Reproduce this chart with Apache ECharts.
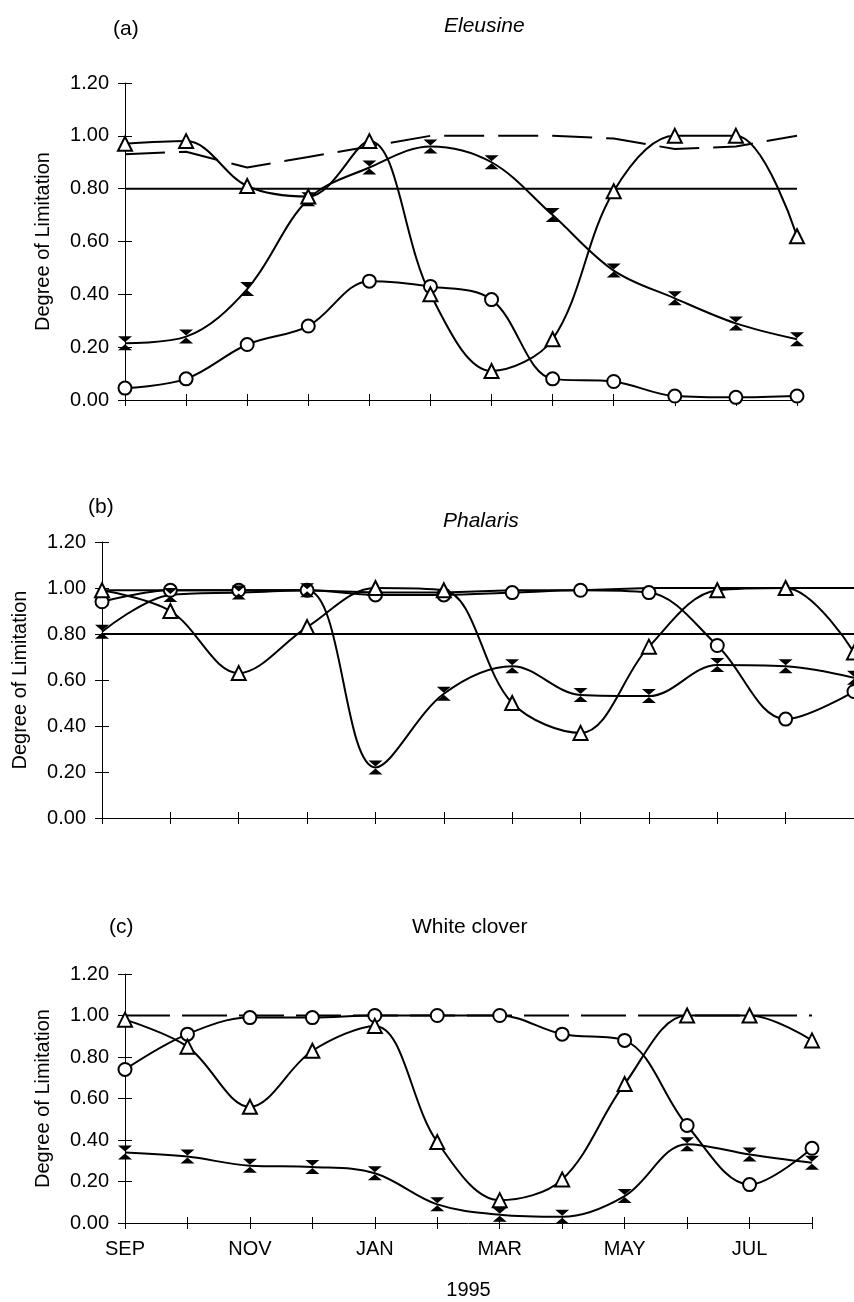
<!DOCTYPE html>
<html>
<head>
<meta charset="utf-8">
<script src="https://cdn.jsdelivr.net/npm/echarts@6/dist/echarts.min.js"></script>
<style>
  html, body { margin: 0; padding: 0; background: #fff; }
  #chart { width: 854px; height: 1302px; }
</style>
</head>
<body>
<div id="chart"></div>
<script>
// months on the x axis (Sep 1994 - Aug 1995)
const months = ["SEP", "OCT", "NOV", "DEC", "JAN", "FEB", "MAR", "APR", "MAY", "JUN", "JUL", "AUG"];

// (a) Eleusine
const aTriangle = [0.97, 0.98, 0.81, 0.77, 0.98, 0.40, 0.11, 0.23, 0.79, 1.00, 1.00, 0.62];
const aCircle = [0.045, 0.08, 0.21, 0.28, 0.45, 0.43, 0.38, 0.08, 0.07, 0.015, 0.01, 0.015];
const aCross = [0.215, 0.24, 0.42, 0.76, 0.88, 0.96, 0.90, 0.70, 0.49, 0.385, 0.29, 0.23];
const aDashed = [0.93, 0.94, 0.88, 0.92, 0.96, 1.00, 1.00, 1.00, 0.99, 0.95, 0.96, 1.00];

// (b) Phalaris
const bTriangle = [0.99, 0.90, 0.63, 0.83, 1.00, 0.99, 0.50, 0.37, 0.745, 0.99, 1.00, 0.72];
const bCircle = [0.94, 0.99, 0.99, 0.99, 0.97, 0.97, 0.98, 0.99, 0.98, 0.75, 0.43, 0.55];
const bCross = [0.81, 0.97, 0.98, 0.99, 0.22, 0.54, 0.66, 0.535, 0.53, 0.665, 0.66, 0.61];
const bTop = [0.99, 0.99, 0.99, 0.99, 0.98, 0.98, 0.99, 0.99, 1.00, 1.00, 1.00, 1.00];

// (c) White clover
const cTriangle = [0.98, 0.85, 0.56, 0.83, 0.95, 0.39, 0.11, 0.21, 0.67, 1.00, 1.00, 0.88];
const cCircle = [0.74, 0.91, 0.99, 0.99, 1.00, 1.00, 1.00, 0.91, 0.88, 0.47, 0.185, 0.36];
const cCross = [0.34, 0.32, 0.276, 0.27, 0.24, 0.09, 0.04, 0.03, 0.13, 0.38, 0.33, 0.29];
const cDashed = [1, 1, 1, 1, 1, 1, 1, 1, 1, 1, 1, 1];

// 0.80 reference line used in (a) and (b)
const refLevel = 0.8;

const FONT = "'Liberation Sans', Arial, sans-serif";
const crossBox = "path://M0,0 L10,0 L5,4.3 Z M0,10 L10,10 L5,5.7 Z";

const grids = [
  { left: 125, top: 83, width: 672, height: 317 },
  { left: 102, top: 542, width: 756, height: 276 },
  { left: 125, top: 974, width: 687, height: 249 },
];

const xAxes = [];
const yAxes = [];
grids.forEach((g, i) => {
  const last = i === 2;
  xAxes.push({
    type: "category", gridIndex: i, position: "bottom", data: months, boundaryGap: false,
    axisLine: { lineStyle: { color: "#000", width: 1 } },
    axisTick: { show: true, interval: 0, length: 6, lineStyle: { color: "#000" } },
    axisLabel: {
      show: last, interval: 1, margin: 16, color: "#000", fontSize: 20, fontFamily: FONT,
    },
    name: last ? "1995" : "", nameLocation: "middle", nameGap: 57,
    nameTextStyle: { color: "#000", fontSize: 20, fontFamily: FONT },
    splitLine: { show: false },
  });
  // inner half of the crossing ticks
  xAxes.push({
    type: "category", gridIndex: i, position: "bottom", data: months, boundaryGap: false,
    axisLine: { show: false },
    axisTick: { show: true, inside: true, interval: 0, length: 6, lineStyle: { color: "#000" } },
    axisLabel: { show: false }, splitLine: { show: false },
  });
  yAxes.push({
    type: "value", gridIndex: i, position: "left", min: 0, max: 1.2, interval: 0.2,
    axisLine: { show: true, lineStyle: { color: "#000", width: 1 } },
    axisTick: { show: true, length: 7, lineStyle: { color: "#000" } },
    axisLabel: {
      margin: 16, color: "#000", fontSize: 20, fontFamily: FONT,
      formatter: (v) => v.toFixed(2),
    },
    name: "Degree of Limitation", nameLocation: "middle", nameRotate: 90, nameGap: 72,
    nameTextStyle: { color: "#000", fontSize: 20, fontFamily: FONT },
    splitLine: { show: false },
  });
  yAxes.push({
    type: "value", gridIndex: i, position: "left", min: 0, max: 1.2, interval: 0.2,
    axisLine: { show: false },
    axisTick: { show: true, inside: true, length: 7, lineStyle: { color: "#000" } },
    axisLabel: { show: false }, splitLine: { show: false },
  });
});

function plain(panel, data, dash) {
  return {
    type: "line", xAxisIndex: panel * 2, yAxisIndex: panel * 2, data: data,
    symbol: "none", silent: true, z: 1,
    lineStyle: { color: "#000", width: 2, type: dash || "solid" },
  };
}

function marked(panel, data, symbol) {
  const cross = symbol === crossBox;
  return {
    type: "line", xAxisIndex: panel * 2, yAxisIndex: panel * 2, data: data,
    smooth: 0.35, symbol: symbol, symbolSize: cross ? 14 : (symbol === "triangle" ? 14 : 13),
    showAllSymbol: true, z: 3,
    lineStyle: { color: "#000", width: 2 },
    itemStyle: cross
      ? { color: "#000", borderWidth: 0 }
      : { color: "#fff", borderColor: "#000", borderWidth: 2 },
  };
}

const ref = months.map(() => refLevel);

const option = {
  backgroundColor: "#fff",
  animation: false,
  grid: grids,
  xAxis: xAxes,
  yAxis: yAxes,
  graphic: [
    { type: "text", left: 113, top: 19, style: { text: "(a)", font: "21px " + FONT, fill: "#000" } },
    { type: "text", left: 444, top: 16, style: { text: "Eleusine", font: "italic 21px " + FONT, fill: "#000" } },
    { type: "text", left: 88, top: 497, style: { text: "(b)", font: "21px " + FONT, fill: "#000" } },
    { type: "text", left: 443, top: 511, style: { text: "Phalaris", font: "italic 21px " + FONT, fill: "#000" } },
    { type: "text", left: 109, top: 917, style: { text: "(c)", font: "21px " + FONT, fill: "#000" } },
    { type: "text", left: 412, top: 917, style: { text: "White clover", font: "21px " + FONT, fill: "#000" } },
  ],
  series: [
    plain(0, ref),
    plain(0, aDashed, [40, 14]),
    marked(0, aCircle, "circle"),
    marked(0, aCross, crossBox),
    marked(0, aTriangle, "triangle"),

    plain(1, ref),
    plain(1, bTop),
    marked(1, bCircle, "circle"),
    marked(1, bCross, crossBox),
    marked(1, bTriangle, "triangle"),

    plain(2, cDashed, [45, 12]),
    marked(2, cCircle, "circle"),
    marked(2, cCross, crossBox),
    marked(2, cTriangle, "triangle"),
  ],
};

const chart = echarts.init(document.getElementById("chart"), null, { renderer: "canvas" });
chart.setOption(option);
</script>
</body>
</html>
